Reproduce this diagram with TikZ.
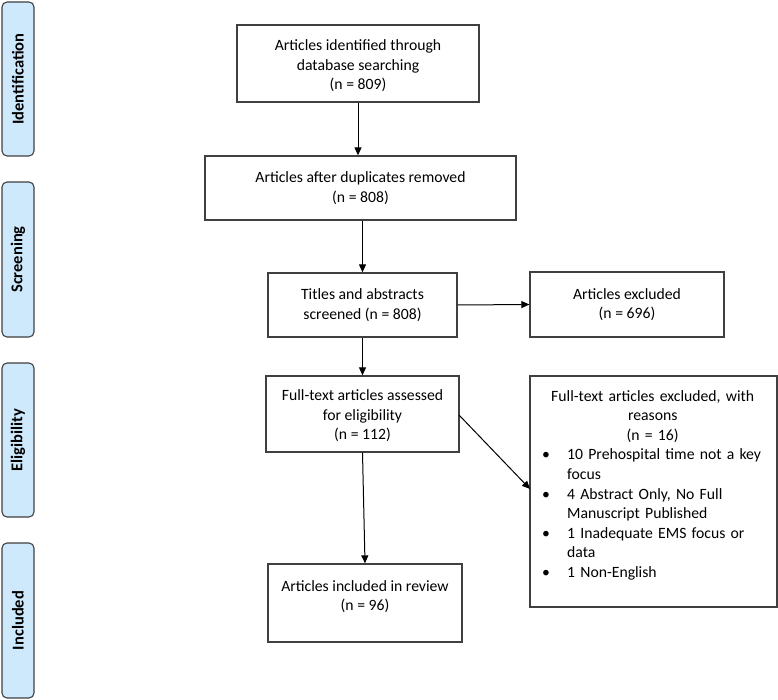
\documentclass[tikz,border=0pt]{standalone}
\usepackage{fontspec}
\setmainfont{Carlito}
\usetikzlibrary{arrows.meta}
\definecolor{sidefill}{HTML}{CFE9FC}
\definecolor{edge}{HTML}{404040}
\newcommand{\mainfs}{\fontsize{15.7}{19.6}\selectfont}
\tikzset{
  box/.style={draw=edge, line width=1.3pt, rectangle, inner sep=0pt, align=center,
    font=\mainfs},
  side/.style={draw=edge, line width=1.1pt, fill=sidefill, rounded corners=5pt,
    inner sep=0pt, font=\fontsize{16.5}{18}\selectfont\bfseries, rotate=90},
  conn/.style={draw=black, line width=1pt, -{Triangle[length=8pt,width=7pt]}},
  txt/.style={inner sep=0pt, align=center, font=\mainfs}
}
\begin{document}
\begin{tikzpicture}[x=1pt,y=-1pt]
\useasboundingbox (0,0) rectangle (778,700);
% side labels
\node[side, minimum width=154pt, minimum height=32pt] (sid) at (18,79) {Identification};
\node[side, minimum width=155pt, minimum height=32pt] (ssc) at (18,259.5) {Screening};
\node[side, minimum width=154pt, minimum height=32pt] (sel) at (18,440) {Eligibility};
\node[side, minimum width=155pt, minimum height=32pt] (sin) at (18,620.5) {Included};
% boxes
\node[box, minimum width=242pt, minimum height=77pt] (b1) at (358,63.5) {};
\node[txt] (b1t) at (358,66) {Articles identified through\\database searching\\(n = 809)};
\node[box, minimum width=311pt, minimum height=64pt] (b2) at (360.5,188)
  {Articles after duplicates removed\\(n = 808)};
\node[box, minimum width=189pt, minimum height=64pt] (b3) at (362.5,305)
  {Titles and abstracts\\screened (n = 808)};
\node[box, minimum width=194pt, minimum height=65pt] (e1) at (627,304.5)
  {Articles excluded\\(n = 696)};
\node[box, minimum width=193pt, minimum height=76pt] (b4) at (362.5,414) {};
\node[txt] (b4t) at (362.5,416) {Full-text articles assessed\\for eligibility\\(n = 112)};
\node[box, minimum width=247pt, minimum height=231pt] (e2) at (653.5,491.5) {};
\node[inner sep=0pt, anchor=north west, text width=221pt, align=left,
  font=\mainfs] (e2t) at (542,390) {%
  \makebox[\linewidth][c]{Full-text articles excluded, with}\\
  \makebox[\linewidth][c]{reasons}\\
  \makebox[\linewidth][c]{(n = 16)}\\
  \makebox[25pt][l]{\textbullet}10 Prehospital time not a key\\
  \hspace*{25pt}focus\\
  \makebox[25pt][l]{\textbullet}4 Abstract Only, No Full\\
  \hspace*{25pt}Manuscript Published\\
  \makebox[25pt][l]{\textbullet}1 Inadequate EMS focus or\\
  \hspace*{25pt}data\\
  \makebox[25pt][l]{\textbullet}1 Non-English};
\node[box, minimum width=194pt, minimum height=78pt] (b6) at (365,603) {};
\node[txt] (b6t) at (365,596.5) {Articles included in review\\(n = 96)};
% connectors
\draw[conn] (b1.south) -- (b2.north -| b1.south);
\draw[conn] (b2.south -| b3.north) -- (b3.north);
\draw[conn] (b3.east) -- (e1.west);
\draw[conn] (b3.south) -- (b4.north);
\draw[conn] (b4.south) -- (b6.north);
\coordinate (d1) at (459,415);
\coordinate (d2) at (530,489);
\draw[conn] (d1) -- (d2);
\end{tikzpicture}
\end{document}
